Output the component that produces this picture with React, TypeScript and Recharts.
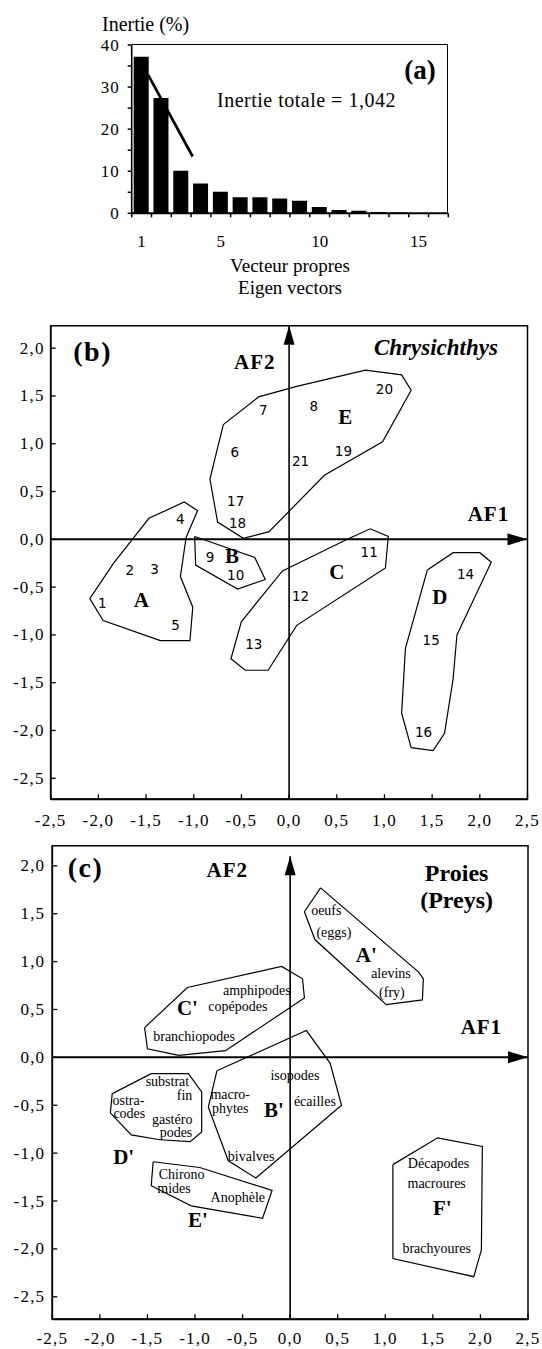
import React from "react";
import {
  ComposedChart,
  Bar,
  ScatterChart,
  Scatter,
  XAxis,
  YAxis,
  ReferenceLine,
  ReferenceArea,
} from "recharts";

const SERIF = '"Liberation Serif", "Times New Roman", serif';
const SANS = '"DejaVu Sans", Verdana, sans-serif';

// (a) eigenvalue scree
const eigenRanks = [1, 2, 3, 4, 5, 6, 7, 8, 9, 10, 11, 12, 13, 14, 15, 16];
const inertiaPct = [37.2, 27.4, 10.1, 7.1, 5.1, 3.8, 3.8, 3.5, 3.0, 1.5, 0.8, 0.6, 0.3, 0.2, 0.1, 0.1];
const rankEdges = [0.5, 1.5, 2.5, 3.5, 4.5, 5.5, 6.5, 7.5, 8.5, 9.5, 10.5, 11.5, 12.5, 13.5, 14.5, 15.5, 16.5];
const rankLabels = [1, 5, 10, 15];
const inertiaTicks = [0, 5, 10, 15, 20, 25, 30, 35, 40];
const inertiaLabels = [0, 10, 20, 30, 40];
const screeSegment = [
  { x: 1.33, y: 32.9 },
  { x: 3.58, y: 13.5 },
];

// factorial planes (b) and (c)
const factorTicksX = [-2.5, -2, -1.5, -1, -0.5, 0, 0.5, 1, 1.5, 2, 2.5];
const factorTicksY = [-2.5, -2, -1.5, -1, -0.5, 0, 0.5, 1, 1.5, 2];

// (b) Chrysichthys stations
const stationIds = ["1", "2", "3", "4", "5", "6", "7", "8", "9", "10", "11", "12", "13", "14", "15", "16", "17", "18", "19", "20", "21"];
const stationAF1 = [-1.96, -1.67, -1.41, -1.14, -1.19, -0.57, -0.27, 0.26, -0.83, -0.56, 0.84, 0.12, -0.37, 1.85, 1.49, 1.41, -0.56, -0.54, 0.57, 1.0, 0.12];
const stationAF2 = [-0.67, -0.32, -0.31, 0.21, -0.9, 0.91, 1.35, 1.39, -0.19, -0.37, -0.13, -0.59, -1.09, -0.36, -1.05, -2.02, 0.4, 0.17, 0.92, 1.57, 0.82];

const stationGroups = ["A", "B", "C", "D", "E"];
const stationGroupAF1 = [-1.55, -0.6, 0.5, 1.58, 0.59];
const stationGroupAF2 = [-0.63, -0.17, -0.34, -0.6, 1.28];

const hullA = [[-2.09, -0.62], [-1.84, -0.25], [-1.47, 0.22], [-1.1, 0.39], [-0.96, 0.3], [-1.08, 0.02], [-1.14, -0.39], [-1.01, -0.71], [-1.04, -1.06], [-1.35, -1.06], [-1.95, -0.85]];
const hullB = [[-0.99, 0.03], [-0.36, -0.19], [-0.25, -0.42], [-0.54, -0.52], [-0.98, -0.27]];
const hullC = [[-0.5, -0.86], [-0.61, -1.25], [-0.46, -1.37], [-0.22, -1.37], [0.08, -0.9], [1.01, -0.3], [1.04, 0.03], [0.85, 0.11], [0.61, 0.0], [-0.07, -0.33]];
const hullD = [[1.45, -0.32], [1.72, -0.14], [2.0, -0.14], [2.12, -0.24], [1.76, -1.0], [1.72, -1.46], [1.63, -2.03], [1.51, -2.21], [1.28, -2.18], [1.18, -1.82], [1.22, -1.14]];
const hullE = [[-0.69, 1.2], [-0.32, 1.49], [0.08, 1.6], [0.8, 1.77], [1.18, 1.72], [1.28, 1.56], [0.98, 1.02], [0.37, 0.67], [-0.21, 0.08], [-0.48, 0.01], [-0.75, 0.18], [-0.83, 0.63]];

// (c) prey items
const preyNames = ["oeufs", "(eggs)", "alevins", "(fry)", "amphipodes", "copépodes", "branchiopodes", "isopodes", "substrat", "fin", "ostra-", "codes", "gastéro", "podes", "macro-", "phytes", "écailles", "bivalves", "Chirono", "mides", "Anophèle", "Décapodes", "macroures", "brachyoures"];
const preyAF1 = [0.38, 0.46, 1.06, 1.07, -0.35, -0.55, -1.01, 0.05, -1.29, -1.11, -1.7, -1.69, -1.24, -1.2, -0.63, -0.63, 0.26, -0.41, -1.14, -1.22, -0.55, 1.56, 1.54, 1.54];
const preyAF2 = [1.53, 1.3, 0.88, 0.68, 0.7, 0.53, 0.22, -0.19, -0.25, -0.4, -0.45, -0.59, -0.65, -0.78, -0.39, -0.53, -0.46, -1.03, -1.22, -1.37, -1.46, -1.11, -1.32, -2.0];

const preyGroups = ["A'", "B'", "C'", "D'", "E'", "F'"];
const preyGroupAF1 = [0.8, -0.17, -1.08, -1.75, -0.97, 1.6];
const preyGroupAF2 = [1.07, -0.55, 0.52, -1.04, -1.7, -1.57];

const hullA2 = [[0.32, 1.77], [0.15, 1.52], [0.26, 1.23], [1.01, 0.55], [1.39, 0.6], [1.4, 0.82], [1.35, 0.89]];
const hullB2 = [[-0.77, -0.14], [0.17, 0.28], [0.42, -0.06], [0.54, -0.5], [-0.36, -1.26], [-0.65, -1.08], [-0.86, -0.52]];
const hullC2 = [[-1.53, 0.31], [-1.08, 0.73], [-0.09, 0.95], [0.13, 0.82], [0.15, 0.62], [-0.68, 0.07], [-1.17, 0.02], [-1.5, 0.09]];
const hullD2 = [[-1.46, -0.17], [-1.07, -0.17], [-0.93, -0.36], [-0.93, -0.78], [-1.05, -0.88], [-1.37, -0.86], [-1.67, -0.81], [-1.89, -0.58], [-1.87, -0.38]];
const hullE2 = [[-1.44, -1.09], [-0.95, -1.15], [-0.19, -1.39], [-0.29, -1.68], [-1.04, -1.55], [-1.46, -1.34]];
const hullF2 = [[1.08, -1.12], [1.55, -0.84], [2.02, -0.93], [2.01, -2.01], [1.93, -2.29], [1.08, -2.1]];

// panel annotations, placed in factor coordinates
const bPanelTag = [{ x: -2.06, y: 1.97, label: "(b)" }];
const bAxisNames = [
  { x: -0.36, y: 1.85, label: "AF2" },
  { x: 2.09, y: 0.27, label: "AF1" },
];
const bTaxon = [{ x: 1.54, y: 2.01, label: "Chrysichthys" }];
const cPanelTag = [{ x: -2.15, y: 1.98, label: "(c)" }];
const cAxisNames = [
  { x: -0.66, y: 1.96, label: "AF2" },
  { x: 2.01, y: 0.32, label: "AF1" },
];
const cTaxon = [
  { x: 1.75, y: 1.93, label: "Proies" },
  { x: 1.75, y: 1.64, label: "(Preys)" },
];

const eigenData = eigenRanks.map((rank, i) => ({ rank, inertia: inertiaPct[i] }));
const rankTicks = [...rankEdges, ...rankLabels].sort((a, b) => a - b);
const rankMin = rankEdges[0];
const rankMax = rankEdges[rankEdges.length - 1];
const inertiaMax = inertiaTicks[inertiaTicks.length - 1];

// plot box of panel (a)
const A_BOX = { left: 131.7, top: 45, width: 316.6, height: 168.3 };

const toPoints = (labels: string[], xs: number[], ys: number[]) =>
  labels.map((label, i) => ({ x: xs[i], y: ys[i], label }));
const ring = (pts: number[][]) => [...pts, pts[0]].map(([x, y]) => ({ x, y }));

const fmt = (v: number) => v.toFixed(1).replace(".", ",");

const EigenXTick = (props: any) => {
  const { x, y, payload } = props;
  const v = payload.value;
  if (rankLabels.includes(v)) {
    return (
      <text x={x} y={y + 28} textAnchor="middle" dominantBaseline="central" fontFamily={SERIF} fontSize={17} fill="#000">
        {v}
      </text>
    );
  }
  return <line x1={x} x2={x} y1={y} y2={y + 4} stroke="#000" strokeWidth={1.5} />;
};

const EigenYTick = (props: any) => {
  const { x, y, payload } = props;
  const v = payload.value;
  return (
    <g>
      <line x1={x - 4} x2={x} y1={y} y2={y} stroke="#000" strokeWidth={1.5} />
      {inertiaLabels.includes(v) && (
        <text x={x - 12} y={y} textAnchor="end" dominantBaseline="central" fontFamily={SERIF} fontSize={17} style={{ letterSpacing: 1 }} fill="#000">
          {v}
        </text>
      )}
    </g>
  );
};

const factorXTick = (gap: number) => (props: any) => {
  const { x, y, payload } = props;
  return (
    <g>
      <line x1={x} x2={x} y1={y} y2={y - 5} stroke="#000" strokeWidth={1.3} />
      <text x={x} y={y + gap} textAnchor="middle" dominantBaseline="central" fontFamily={SERIF} fontSize={17} style={{ letterSpacing: 1.2 }} fill="#000">
        {fmt(payload.value)}
      </text>
    </g>
  );
};

const factorYTick = (gap: number) => (props: any) => {
  const { x, y, payload } = props;
  return (
    <g>
      <line x1={x} x2={x + 5} y1={y} y2={y} stroke="#000" strokeWidth={1.3} />
      <text x={x - gap} y={y} textAnchor="end" dominantBaseline="central" fontFamily={SERIF} fontSize={17} style={{ letterSpacing: 1.2 }} fill="#000">
        {fmt(payload.value)}
      </text>
    </g>
  );
};

const textShape = (font: Record<string, any>) => (props: any) => (
  <text x={props.cx} y={props.cy} textAnchor="middle" dominantBaseline="central" fill="#000" {...font}>
    {props.payload.label}
  </text>
);

const noDot = () => <g />;

const arrowRight = (p: any) => (
  <polygon points={`${p.cx},${p.cy} ${p.cx - 20},${p.cy - 6} ${p.cx - 20},${p.cy + 6}`} fill="#000" />
);
const arrowUp = (p: any) => (
  <polygon points={`${p.cx},${p.cy} ${p.cx - 5.5},${p.cy + 19} ${p.cx + 5.5},${p.cy + 19}`} fill="#000" />
);

const numberShape = textShape({ fontFamily: SANS, fontSize: 13.5 });
const preyShape = textShape({ fontFamily: SERIF, fontSize: 14 });
const groupShape = textShape({ fontFamily: SERIF, fontSize: 21, fontWeight: 700 });
const tagShape = textShape({ fontFamily: SERIF, fontSize: 28, fontWeight: 700, style: { letterSpacing: 1.5 } });
const axisNameShape = textShape({ fontFamily: SERIF, fontSize: 21, fontWeight: 700, style: { letterSpacing: 1 } });
const taxonShape = textShape({ fontFamily: SERIF, fontSize: 23, fontWeight: 700, fontStyle: "italic" });
const preyTitleShape = textShape({ fontFamily: SERIF, fontSize: 24, fontWeight: 700 });

function Caption({ x, y, children, center, style }: any) {
  return (
    <div
      style={{
        position: "absolute",
        left: x,
        top: y,
        transform: `translate(${center ? "-50%" : "0"}, -50%)`,
        whiteSpace: "nowrap",
        fontFamily: SERIF,
        lineHeight: 1,
        color: "#000",
        ...style,
      }}
    >
      {children}
    </div>
  );
}

function FactorPlane({ top, height, margin, xAxisHeight, yDomain, labelGapX, labelGapY, tipY, hulls, labels, labelShape, groups, titles }: any) {
  const [yMin, yMax] = yDomain;
  return (
    <div style={{ position: "absolute", left: 0, top, width: 542, height }}>
      <ScatterChart width={542} height={height} margin={margin}>
        <XAxis
          type="number"
          dataKey="x"
          domain={[-2.5, 2.5]}
          ticks={factorTicksX}
          interval={0}
          tick={factorXTick(labelGapX)}
          tickLine={false}
          tickSize={0}
          tickMargin={0}
          axisLine={{ stroke: "#000", strokeWidth: 2 }}
          height={xAxisHeight}
          allowDataOverflow
        />
        <YAxis
          type="number"
          dataKey="y"
          domain={yDomain}
          ticks={factorTicksY}
          interval={0}
          tick={factorYTick(labelGapY)}
          tickLine={false}
          tickSize={0}
          tickMargin={0}
          axisLine={{ stroke: "#000", strokeWidth: 1.6 }}
          width={45}
          allowDataOverflow
        />
        <ReferenceArea x1={-2.5} x2={2.5} y1={yMin} y2={yMax} fill="none" fillOpacity={0} stroke="#000" strokeWidth={1.5} />
        <ReferenceLine y={0} stroke="#000" strokeWidth={2} />
        <ReferenceLine segment={[{ x: 0, y: yMin }, { x: 0, y: tipY }]} stroke="#000" strokeWidth={1.6} />
        <Scatter data={[{ x: 2.5, y: 0 }]} shape={arrowRight} isAnimationActive={false} />
        <Scatter data={[{ x: 0, y: tipY }]} shape={arrowUp} isAnimationActive={false} />
        {hulls.map((h: number[][], i: number) => (
          <Scatter
            key={`hull-${i}`}
            data={ring(h)}
            line={{ stroke: "#000", strokeWidth: 1.2 }}
            lineType="joint"
            shape={noDot}
            isAnimationActive={false}
          />
        ))}
        <Scatter data={labels} shape={labelShape} isAnimationActive={false} />
        <Scatter data={groups} shape={groupShape} isAnimationActive={false} />
        {titles.map(([data, shape]: any, i: number) => (
          <Scatter key={`title-${i}`} data={data} shape={shape} isAnimationActive={false} />
        ))}
      </ScatterChart>
    </div>
  );
}

export default function App() {
  return (
    <div style={{ position: "absolute", left: 0, top: 0, width: 542, height: 1349, background: "#fff", overflow: "hidden" }}>
      {/* (a) */}
      <div style={{ position: "absolute", left: 0, top: 0, width: 542, height: 300 }}>
        <ComposedChart width={542} height={300} data={eigenData} margin={{ top: 45, right: 93.7, bottom: 56.7, left: 71.7 }}>
          <XAxis
            type="number"
            dataKey="rank"
            domain={[rankMin, rankMax]}
            ticks={rankTicks}
            interval={0}
            tick={EigenXTick}
            tickLine={false}
            tickSize={0}
            tickMargin={0}
            axisLine={{ stroke: "#000", strokeWidth: 2 }}
            height={30}
            padding={{ left: 0, right: 0 }}
            allowDataOverflow
          />
          <YAxis
            type="number"
            domain={[0, inertiaMax]}
            ticks={inertiaTicks}
            interval={0}
            tick={EigenYTick}
            tickLine={false}
            tickSize={0}
            tickMargin={0}
            axisLine={{ stroke: "#000", strokeWidth: 1.6 }}
            width={60}
            allowDataOverflow
          />
          <Bar dataKey="inertia" fill="#000" barSize={15} isAnimationActive={false} />
          <ReferenceLine segment={screeSegment} stroke="#000" strokeWidth={2.7} ifOverflow="visible" />
        </ComposedChart>
        {/* top and right border of the box */}
        <div
          style={{
            position: "absolute",
            left: A_BOX.left,
            top: A_BOX.top - 0.8,
            width: A_BOX.width,
            height: A_BOX.height,
            borderTop: "1.6px solid #000",
            borderRight: "1.6px solid #000",
            boxSizing: "border-box",
            pointerEvents: "none",
          }}
        />
        <Caption x={102} y={24} style={{ fontSize: 20 }}>Inertie (%)</Caption>
        <Caption x={420} y={70} center style={{ fontSize: 27, fontWeight: 700 }}>(a)</Caption>
        <Caption x={217} y={100} style={{ fontSize: 20, letterSpacing: 0.5 }}>Inertie totale = 1,042</Caption>
        <Caption x={290} y={265} center style={{ fontSize: 19 }}>Vecteur propres</Caption>
        <Caption x={290} y={287} center style={{ fontSize: 19 }}>Eigen vectors</Caption>
      </div>

      {/* (b) */}
      <FactorPlane
        top={300}
        height={540}
        margin={{ top: 25.7, right: 14.5, bottom: 10.7, left: 5.7 }}
        xAxisHeight={30}
        yDomain={[-2.72, 2.235]}
        labelGapX={21}
        labelGapY={6}
        tipY={2.235}
        hulls={[hullA, hullB, hullC, hullD, hullE]}
        labels={toPoints(stationIds, stationAF1, stationAF2)}
        labelShape={numberShape}
        groups={toPoints(stationGroups, stationGroupAF1, stationGroupAF2)}
        titles={[
          [bPanelTag, tagShape],
          [bAxisNames, axisNameShape],
          [bTaxon, taxonShape],
        ]}
      />

      {/* (c) */}
      <FactorPlane
        top={840}
        height={509}
        margin={{ top: 5.7, right: 14, bottom: 4.7, left: 7.3 }}
        xAxisHeight={25}
        yDomain={[-2.735, 2.21]}
        labelGapX={19}
        labelGapY={7}
        tipY={2.1}
        hulls={[hullA2, hullB2, hullC2, hullD2, hullE2, hullF2]}
        labels={toPoints(preyNames, preyAF1, preyAF2)}
        labelShape={preyShape}
        groups={toPoints(preyGroups, preyGroupAF1, preyGroupAF2)}
        titles={[
          [cPanelTag, tagShape],
          [cAxisNames, axisNameShape],
          [cTaxon, preyTitleShape],
        ]}
      />
    </div>
  );
}
